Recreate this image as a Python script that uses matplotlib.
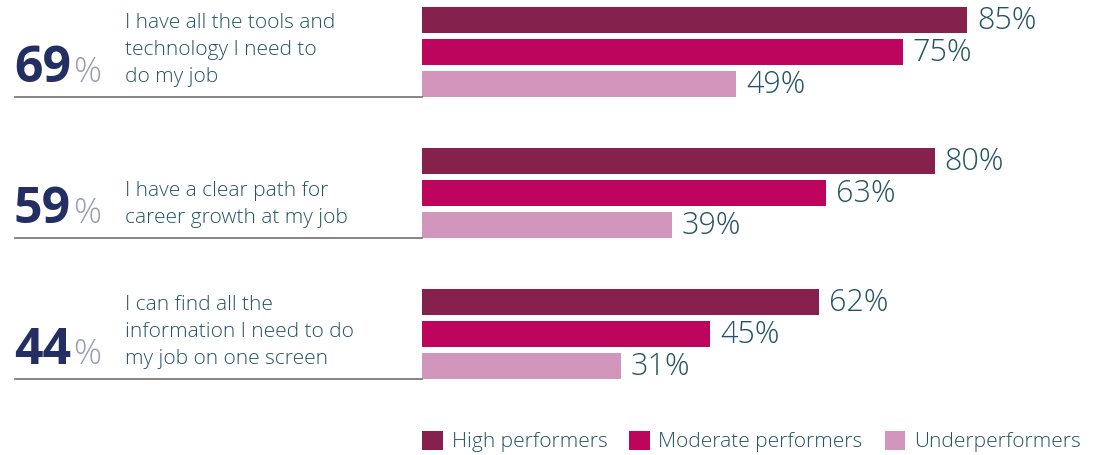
import matplotlib.pyplot as plt

plt.rcParams['font.family'] = ['Open Sans', 'DejaVu Sans']

# survey data
statements = [
    ['I have all the tools and', 'technology I need to', 'do my job'],
    ['I have a clear path for', 'career growth at my job'],
    ['I can find all the', 'information I need to do', 'my job on one screen'],
]
overall = [69, 59, 44]
series = ['High performers', 'Moderate performers', 'Underperformers']
high = [85, 80, 62]
moderate = [75, 63, 45]
under = [49, 39, 31]

colors = ['#85214c', '#bd055d', '#d295bc']
text_col = '#235365'
num_col = '#232e63'
pct_col = '#9b9bb8'

W, H = 1094, 455
fig = plt.figure(figsize=(W / 100, H / 100), dpi=100)

# bar axes in pixel-like y units, 0..100 on x
ax = fig.add_axes([422 / W, 0, 641 / W, 1])
ax.set_xlim(0, 100)
ax.set_ylim(H, 0)
ax.axis('off')

group_top = 20
group_step = 141
bar_step = 32
bar_h = 26

handles = []
for s, vals in enumerate([high, moderate, under]):
    ys = [group_top + g * group_step + s * bar_step for g in range(len(vals))]
    b = ax.barh(ys, vals, height=bar_h, color=colors[s], label=series[s])
    handles.append(b)
    for y, v in zip(ys, vals):
        ax.text(v + 1.55, y + 1, f'{v}%', color=text_col, fontsize=22,
                fontweight='light', va='center', ha='left')

# left-hand labels drawn in figure pixels
def fx(px):
    return px / W

def fy(py):
    return 1 - py / H

for g, (lines, num) in enumerate(zip(statements, overall)):
    sep = group_top + g * group_step + 2 * bar_step + bar_h / 2
    fig.add_artist(plt.Line2D([fx(15), fx(422)], [fy(sep), fy(sep)],
                              color='#707070', lw=1.2))
    base = sep - 15
    fig.text(fx(14), fy(base), str(num), fontsize=36, fontweight='bold',
             color=num_col, ha='left', va='baseline')
    fig.text(fx(73), fy(base), '%', fontsize=25, color=pct_col,
             ha='left', va='baseline', fontweight='light')
    for i, line in enumerate(reversed(lines)):
        fig.text(fx(125), fy(base - i * 27), line, fontsize=15, color=text_col,
                 fontweight='light', ha='left', va='baseline')

leg = fig.legend(handles=handles, loc='lower right',
                 bbox_to_anchor=(1093 / W, -10 / H), ncol=3, frameon=False,
                 prop={'size': 15, 'weight': 'light'},
                 handlelength=1.0, handleheight=1.0,
                 handletextpad=0.4, columnspacing=1.05, borderaxespad=0.2)
for txt in leg.get_texts():
    txt.set_color(text_col)

fig.savefig('out.png', dpi=100)
